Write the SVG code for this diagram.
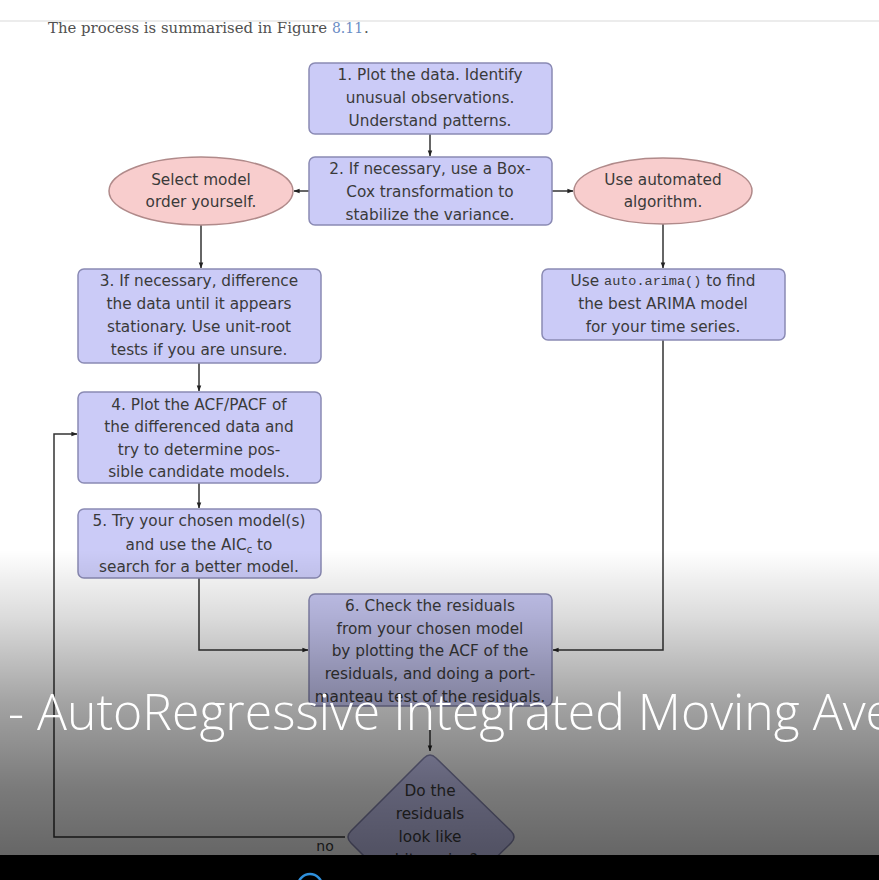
<svg xmlns="http://www.w3.org/2000/svg" width="879" height="880" viewBox="0 0 879 880">
<defs>
<marker id="ah" viewBox="0 0 8 8" refX="7.5" refY="4" markerWidth="6" markerHeight="6" orient="auto" markerUnits="userSpaceOnUse">
<path d="M0,1 L8,4 L0,7 Z" fill="#222"/>
</marker>
<linearGradient id="shade" x1="0" y1="0" x2="0" y2="1">
<stop offset="0" stop-color="#000" stop-opacity="0"/>
<stop offset="0.22" stop-color="#000" stop-opacity="0.14"/>
<stop offset="0.5" stop-color="#000" stop-opacity="0.36"/>
<stop offset="0.78" stop-color="#000" stop-opacity="0.52"/>
<stop offset="1" stop-color="#000" stop-opacity="0.6"/>
</linearGradient>
<style>
.box{fill:#cbcbf7;stroke:#8a8ab4;stroke-width:1.5}
.ell{fill:#f8cdcd;stroke:#b08a8a;stroke-width:1.5}
.t{font-family:"DejaVu Sans","Liberation Sans",sans-serif;font-size:15.3px;fill:#3a3a3a;text-anchor:middle;dominant-baseline:central}
.mono{font-family:"Liberation Mono",monospace;font-size:13.5px}
.ln{fill:none;stroke:#333;stroke-width:1.5}
.hd{font-family:"DejaVu Serif","Liberation Serif",serif;font-size:15px}
</style>
</defs>
<rect width="879" height="880" fill="#ffffff"/>
<line x1="0" y1="21" x2="879" y2="21" stroke="#ececec" stroke-width="2"/>
<text class="hd" x="48" y="33" fill="#505050" textLength="279" lengthAdjust="spacingAndGlyphs">The process is summarised in Figure</text>
<text class="hd" x="332" y="33" fill="#6a8cc4" textLength="31" lengthAdjust="spacingAndGlyphs">8.11</text>
<text class="hd" x="364" y="33" fill="#505050">.</text>

<g id="connectors">
<line class="ln" x1="430" y1="134" x2="430" y2="156" marker-end="url(#ah)"/>
<line class="ln" x1="309" y1="191" x2="294" y2="191" marker-end="url(#ah)"/>
<line class="ln" x1="552" y1="191" x2="573" y2="191" marker-end="url(#ah)"/>
<line class="ln" x1="201" y1="225" x2="201" y2="268" marker-end="url(#ah)"/>
<line class="ln" x1="663" y1="224" x2="663" y2="268" marker-end="url(#ah)"/>
<line class="ln" x1="199" y1="363" x2="199" y2="391" marker-end="url(#ah)"/>
<line class="ln" x1="199" y1="483" x2="199" y2="508" marker-end="url(#ah)"/>
<polyline class="ln" points="199,578 199,650 308,650" marker-end="url(#ah)"/>
<polyline class="ln" points="663,340 663,650 553,650" marker-end="url(#ah)"/>
<line class="ln" x1="430" y1="706" x2="430" y2="751" marker-end="url(#ah)"/>
<polyline class="ln" points="345,837 54,837 54,434 77,434" marker-end="url(#ah)"/>
<text class="t" x="325" y="846" style="font-size:14px">no</text>
</g>

<g id="n1">
<rect class="box" x="309" y="63" width="243" height="71" rx="6"/>
<text class="t" x="430" y="75">1. Plot the data. Identify</text>
<text class="t" x="430" y="98">unusual observations.</text>
<text class="t" x="430" y="121">Understand patterns.</text>
</g>
<g id="n2">
<rect class="box" x="309" y="157" width="243" height="68" rx="6"/>
<text class="t" x="430" y="169">2. If necessary, use a Box-</text>
<text class="t" x="430" y="192">Cox transformation to</text>
<text class="t" x="430" y="215">stabilize the variance.</text>
</g>
<g id="eL">
<ellipse class="ell" cx="201" cy="191" rx="92" ry="34"/>
<text class="t" x="201" y="180">Select model</text>
<text class="t" x="201" y="202">order yourself.</text>
</g>
<g id="eR">
<ellipse class="ell" cx="663" cy="191" rx="89" ry="33"/>
<text class="t" x="663" y="180">Use automated</text>
<text class="t" x="663" y="202">algorithm.</text>
</g>
<g id="n3">
<rect class="box" x="78" y="269" width="243" height="94" rx="6"/>
<text class="t" x="199" y="281">3. If necessary, difference</text>
<text class="t" x="199" y="304">the data until it appears</text>
<text class="t" x="199" y="327">stationary. Use unit-root</text>
<text class="t" x="199" y="350">tests if you are unsure.</text>
</g>
<g id="nA">
<rect class="box" x="542" y="269" width="243" height="71" rx="6"/>
<text class="t" x="663" y="281">Use <tspan class="mono">auto.arima()</tspan> to find</text>
<text class="t" x="663" y="304">the best ARIMA model</text>
<text class="t" x="663" y="327">for your time series.</text>
</g>
<g id="n4">
<rect class="box" x="78" y="392" width="243" height="91" rx="6"/>
<text class="t" x="199" y="405">4. Plot the ACF/PACF of</text>
<text class="t" x="199" y="427">the differenced data and</text>
<text class="t" x="199" y="450">try to determine pos-</text>
<text class="t" x="199" y="472">sible candidate models.</text>
</g>
<g id="n5">
<rect class="box" x="78" y="509" width="243" height="69" rx="6"/>
<text class="t" x="199" y="521">5. Try your chosen model(s)</text>
<text class="t" x="199" y="545">and use the AIC<tspan font-size="10" dy="4">c</tspan><tspan dy="-4"> to</tspan></text>
<text class="t" x="199" y="567">search for a better model.</text>
</g>
<g id="n6">
<rect class="box" x="309" y="594" width="243" height="112" rx="6"/>
<text class="t" x="430" y="606">6. Check the residuals</text>
<text class="t" x="430" y="629">from your chosen model</text>
<text class="t" x="430" y="651">by plotting the ACF of the</text>
<text class="t" x="430" y="674">residuals, and doing a port-</text>
<text class="t" x="430" y="697">manteau test of the residuals.</text>
</g>
<g id="d1">
<path class="box" d="M424,758 Q430,752 436,758 L511,831 Q517,837 511,843 L436,916 Q430,922 424,916 L351,843 Q345,837 351,831 Z"/>
<text class="t" x="430" y="791">Do the</text>
<text class="t" x="430" y="814">residuals</text>
<text class="t" x="430" y="837">look like</text>
<text class="t" x="430" y="860">white noise?</text>
</g>

<rect x="0" y="550" width="879" height="305" fill="url(#shade)"/>
<text x="8" y="730" font-family="'Open Sans','Noto Sans',sans-serif" font-weight="300" font-size="50" fill="#ffffff" textLength="885" lengthAdjust="spacingAndGlyphs">- AutoRegressive Integrated Moving Ave</text>
<rect x="0" y="855" width="879" height="25" fill="#000"/>
<circle cx="310" cy="886" r="12" fill="none" stroke="#2f90dc" stroke-width="2.5"/>
</svg>
